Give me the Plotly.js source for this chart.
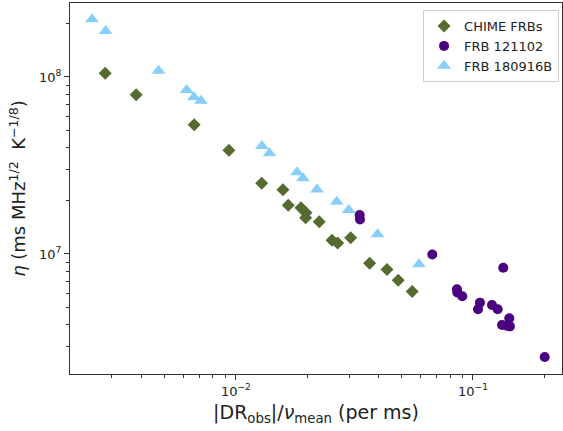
<!DOCTYPE html>
<html>
<head>
<meta charset="utf-8">
<script src="https://cdn.plot.ly/plotly-3.0.1.min.js"></script>
<style>
  html, body { margin: 0; padding: 0; background: #fff; }
  #chart { width: 563px; height: 431px; }
</style>
</head>
<body>
<div id="chart"></div>
<script>
// Drift rate normalised by mean frequency (per ms) and eta values for each sample
const chimeRate = [0.002809, 0.003796, 0.006668, 0.00934, 0.01284, 0.01579, 0.01662, 0.01880, 0.01974,
  0.01968, 0.02246, 0.02542, 0.02686, 0.03048, 0.03665, 0.04337, 0.04839, 0.05540];
const chimeEta = [1.049e8, 7.94e7, 5.38e7, 3.853e7, 2.508e7, 2.308e7, 1.884e7, 1.826e7, 1.712e7,
  1.604e7, 1.522e7, 1.195e7, 1.154e7, 1.236e7, 8.86e6, 8.17e6, 7.11e6, 6.14e6];

const r121102Rate = [0.03326, 0.03336, 0.06735, 0.1342, 0.08560, 0.08585, 0.09013, 0.1070, 0.1050,
  0.1203, 0.1271, 0.1423, 0.1326, 0.1388, 0.1432, 0.2007];
const r121102Eta = [1.661e7, 1.566e7, 9.94e6, 8.37e6, 6.32e6, 6.06e6, 5.77e6, 5.31e6, 4.87e6,
  5.15e6, 4.87e6, 4.33e6, 3.97e6, 3.93e6, 3.90e6, 2.62e6];

const r180916Rate = [0.002469, 0.002820, 0.004719, 0.006194, 0.006648, 0.007116, 0.01287, 0.01385,
  0.01809, 0.01918, 0.02197, 0.02661, 0.02989, 0.03962, 0.05917];
const r180916Eta = [2.118e8, 1.819e8, 1.086e8, 8.445e7, 7.68e7, 7.35e7, 4.075e7, 3.706e7,
  2.894e7, 2.677e7, 2.314e7, 1.975e7, 1.773e7, 1.292e7, 8.75e6];

const seriesNames = ['CHIME FRBs', 'FRB 121102', 'FRB 180916B'];

// Decade ticks with labels, plus the in-between minor ticks
const xMajor = [0.01, 0.1];
const xMajorText = ['10<sup>−2</sup>', '10<sup>−1</sup>'];
const xMinor = [0.003, 0.004, 0.005, 0.006, 0.007, 0.008, 0.009,
  0.02, 0.03, 0.04, 0.05, 0.06, 0.07, 0.08, 0.09, 0.2];
const yMajor = [1e7, 1e8];
const yMajorText = ['10<sup>7</sup>', '10<sup>8</sup>'];
const yMinor = [3e6, 4e6, 5e6, 6e6, 7e6, 8e6, 9e6, 2e7, 3e7, 4e7, 5e7, 6e7, 7e7, 8e7, 9e7, 2e8];

const FONT = 'DejaVu Sans, sans-serif';

const traces = [
  { x: chimeRate, y: chimeEta, name: seriesNames[0], type: 'scatter', mode: 'markers',
    marker: { symbol: 'diamond', size: 10, color: '#556b2f', line: { width: 0 } } },
  { x: r121102Rate, y: r121102Eta, name: seriesNames[1], type: 'scatter', mode: 'markers',
    marker: { symbol: 'circle', size: 10, color: '#4b0082', line: { width: 0 } } },
  { x: r180916Rate, y: r180916Eta, name: seriesNames[2], type: 'scatter', mode: 'markers',
    marker: { symbol: 'triangle-up', size: 12, color: '#87cefa', line: { width: 0 } } }
];

const axisCommon = {
  type: 'log',
  showgrid: false,
  zeroline: false,
  showline: true,
  mirror: true,
  linecolor: '#333',
  linewidth: 1,
  ticks: 'outside',
  ticklen: 5,
  tickwidth: 1,
  tickcolor: '#333',
  tickmode: 'array',
  tickfont: { family: FONT, size: 13, color: '#222' }
};

const layout = {
  width: 563,
  height: 431,
  margin: { l: 70, r: 1, t: 3, b: 57 },
  paper_bgcolor: '#fff',
  plot_bgcolor: '#fff',
  showlegend: true,
  font: { family: FONT, color: '#222' },
  xaxis: Object.assign({}, axisCommon, {
    range: [-2.700, -0.6245],
    tickvals: xMajor,
    ticktext: xMajorText,
    minor: { tickmode: 'array', tickvals: xMinor, ticks: 'outside', ticklen: 3, tickwidth: 1, tickcolor: '#333', showgrid: false },
    title: { text: '|DR<sub>obs</sub>|/<i>ν</i><sub>mean</sub> (per ms)', font: { family: FONT, size: 19, color: '#222' }, standoff: 8 }
  }),
  yaxis: Object.assign({}, axisCommon, {
    range: [6.322, 8.418],
    tickvals: yMajor,
    ticktext: yMajorText,
    minor: { tickmode: 'array', tickvals: yMinor, ticks: 'outside', ticklen: 3, tickwidth: 1, tickcolor: '#333', showgrid: false },
    title: { text: '<i>η</i> (ms MHz<sup>1/2</sup>  K<sup>−1/8</sup>)', font: { family: FONT, size: 18, color: '#222' }, standoff: 8 }
  }),
  legend: {
    x: 0.994, y: 0.981, xanchor: 'right', yanchor: 'top',
    bgcolor: 'rgba(255,255,255,0.8)',
    bordercolor: '#ccc', borderwidth: 1,
    font: { family: FONT, size: 13, color: '#222' },
    itemwidth: 30,
    tracegroupgap: 0
  }
};

Plotly.newPlot('chart', traces, layout, { displayModeBar: false, staticPlot: true });
</script>
</body>
</html>
